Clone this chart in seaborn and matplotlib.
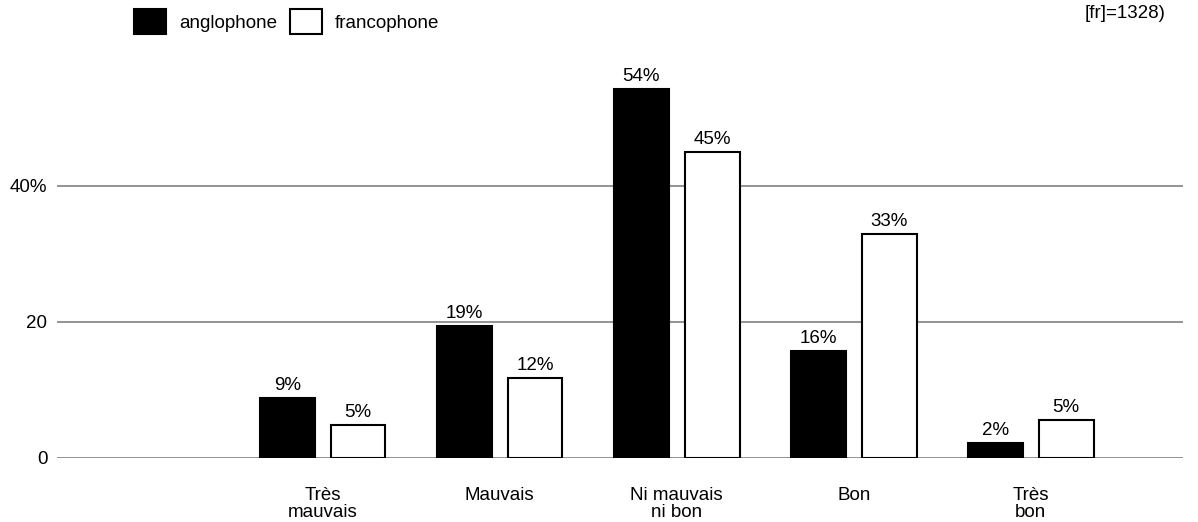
import pandas as pd
import seaborn as sns
import matplotlib.pyplot as plt
from matplotlib.patches import Patch

# valeurs (%)
categories = ['Très\nmauvais', 'Mauvais', 'Ni mauvais\nni bon', 'Bon', 'Très\nbon']
anglophone = [8.8, 19.4, 54.3, 15.7, 2.2]
francophone = [4.8, 11.8, 45.0, 32.9, 5.6]
etiquettes_ang = ['9%', '19%', '54%', '16%', '2%']
etiquettes_fr = ['5%', '12%', '45%', '33%', '5%']
groupes = ['anglophone', 'francophone']

df = pd.DataFrame({
    'categorie': categories * 2,
    'groupe': ['anglophone'] * 5 + ['francophone'] * 5,
    'valeur': anglophone + francophone,
})

sns.set_theme(style='white', rc={'text.color': 'black', 'xtick.color': 'black',
                                 'ytick.color': 'black', 'axes.labelcolor': 'black'})
plt.rcParams['font.family'] = ['Liberation Sans', 'DejaVu Sans']
plt.rcParams['font.size'] = 13.5

fig = plt.figure(figsize=(11.98, 5.22), dpi=100)
ax = fig.add_axes([57 / 1198, 64 / 522, 1126 / 1198, 408 / 522])

sns.barplot(data=df, x='categorie', y='valeur', hue='groupe', order=categories,
            hue_order=groupes, palette={'anglophone': 'black', 'francophone': 'white'},
            edgecolor='black', linewidth=1.5, gap=0.225, width=0.8, ax=ax, legend=False)

for cont, labs in zip(ax.containers, [etiquettes_ang, etiquettes_fr]):
    ax.bar_label(cont, labels=labs, padding=3, fontsize=13.5, color='black')

ax.set_xlim(-1.5, 4.86)
ax.set_ylim(0, 60)
ax.set_yticks([0, 20, 40])
ax.set_yticklabels(['0', '20', '40%'])
ax.yaxis.grid(True, color='#808080', linewidth=1.2)
ax.set_axisbelow(True)
ax.tick_params(axis='y', length=0, pad=7, labelsize=13.5, labelcolor='black')
ax.tick_params(axis='x', length=0, pad=21, labelsize=13.5, labelcolor='black')
for lab in ax.get_xticklabels():
    lab.set_linespacing(1.0)
ax.set_xlabel('')
ax.set_ylabel('')
sns.despine(ax=ax, left=True, bottom=True)

poignees = [Patch(facecolor='black', edgecolor='black', linewidth=1.5),
            Patch(facecolor='white', edgecolor='black', linewidth=1.5)]
fig.legend(poignees, groupes, loc='upper left', bbox_to_anchor=(134 / 1198, 1 - 9 / 522),
           ncol=2, frameon=False, borderpad=0, borderaxespad=0, handlelength=1.7,
           handleheight=1.7, handletextpad=0.7, columnspacing=0.7, fontsize=13.5,
           labelcolor='black')

fig.text(1166 / 1198, 1 - 14 / 522, '[fr]=1328)', ha='right', va='center',
         fontsize=13.5, color='black')

fig.savefig('out.png', dpi=100)
